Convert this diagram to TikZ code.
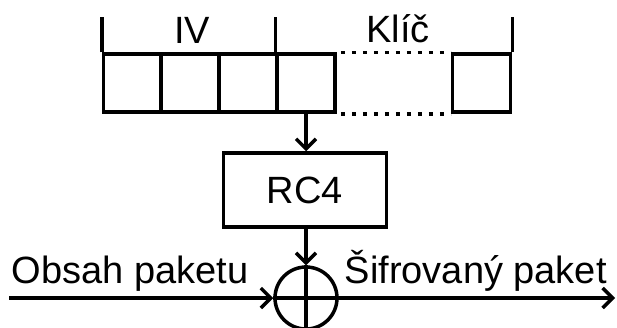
\documentclass[tikz,border=0pt]{standalone}
\usepackage{fontspec}
\setmainfont{Liberation Sans}
\usetikzlibrary{arrows.meta}
\begin{document}
\begin{tikzpicture}[x=1pt,y=-1pt,
  line width=3.5pt,
  every node/.style={font=\fontsize{38}{45}\selectfont},
  cell/.style={draw,line width=3.5pt,minimum width=58pt,minimum height=58pt,inner sep=0pt},
  lbl/.style={inner sep=0pt,anchor=base},
  dotline/.style={line width=3.5pt,dash pattern=on 4pt off 7pt,dash phase=-4pt},
  arr/.style={-{Straight Barb[length=10pt,width=20pt,line width=3.5pt]}}]
\useasboundingbox (0,0) rectangle (617,327);
% key cells
\node[cell] (c1) at (132.5,83) {};
\node[cell] (c2) at (190,83) {};
\node[cell] (c3) at (248,83) {};
\node[cell] (c4) at (306,83) {};
\node[cell] (c5) at (481.5,83) {};
% ticks
\draw (c1.north west) -- ++(0,-35);
\draw (c4.north west) -- ++(0,-35);
\draw (c5.north east) -- ++(0,-35);
% dotted continuation
\draw[dotline] (c4.north east) -- (c5.north west);
\draw[dotline] (c4.south east) -- (c5.south west);
% labels
\node[lbl] (iv) at (192,43) {IV};
\node[lbl] (klic) at (398,42) {Klíč};
% RC4
\node[draw,line width=3.5pt,minimum width=163pt,minimum height=74pt,inner sep=0pt] (rc4) at (305,190) {RC4};
\draw[arr] (c4.south) -- (c4.south |- rc4.north);
% xor
\node[draw,circle,line width=3.5pt,minimum size=62pt,inner sep=0pt] (xor) at (306,298) {};
\draw[arr] (rc4.south -| xor.north) -- (xor.north);
\draw (xor.north) -- (xor.south);
\draw (xor.west) -- (xor.east);
\coordinate (in) at (9,298);
\coordinate (out) at (615,298);
\draw[arr] (in) -- (xor.west);
\draw[arr] (xor.east) -- (out);
\node[lbl,anchor=base west] (obsah) at (10,283) {Obsah paketu};
\node[lbl,anchor=base west] (sifr) at (343,283) {Šifrovaný paket};
\end{tikzpicture}
\end{document}
